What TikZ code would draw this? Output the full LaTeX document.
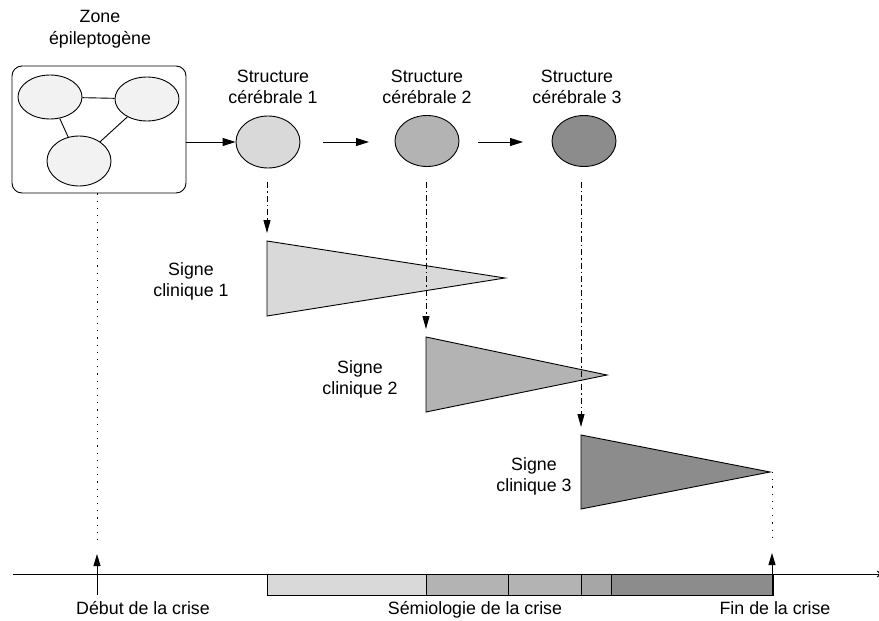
\documentclass[tikz,border=0pt]{standalone}
\usepackage{fontspec}
\setmainfont{Liberation Sans}
\usetikzlibrary{shapes.geometric,arrows.meta,calc}
\definecolor{gA}{HTML}{F2F2F2}
\definecolor{gL}{HTML}{D9D9D9}
\definecolor{gM}{HTML}{B3B3B3}
\definecolor{gN}{HTML}{A6A6A6}
\definecolor{gD}{HTML}{8C8C8C}
\begin{document}
\begin{tikzpicture}[x=1pt,y=-1pt,
  font=\fontsize{17.8}{21}\selectfont,
  line width=0.9pt,
  lbl/.style={align=center, anchor=base, inner sep=0pt},
  ell/.style={draw, ellipse, inner sep=0pt, minimum width=64pt, minimum height=52pt},
  arr/.style={-{Triangle[length=13pt,width=8pt]}},
  dd/.style={dash pattern=on 6pt off 3pt on 1.5pt off 3pt, -{Triangle[length=13pt,width=7pt]}},
  dots/.style={dash pattern=on 1.2pt off 6pt},
  seg/.style={draw}]
\useasboundingbox (0,0) rectangle (879,621);

% zone epileptogene
\node[draw, rounded corners=10pt, minimum width=174pt, minimum height=127pt, inner sep=0pt] (zone) at (99,129.5) {};
\node[ell, fill=gA, minimum height=44pt] (za) at (50,97) {};
\node[ell, fill=gA, minimum height=44pt] (zb) at (147,99) {};
\node[ell, fill=gA, minimum height=50pt] (zc) at (79,161) {};
\draw (za) -- (zb);
\draw (za) -- (zc);
\draw (zb) -- (zc);
\node[lbl] (zlab) at (100,44) {Zone\\épileptogène};

% structures
\node[ell, fill=gL] (e1) at (268,142) {};
\node[ell, fill=gM, minimum height=51pt] (e2) at (427,141) {};
\node[ell, fill=gD, minimum height=51pt] (e3) at (584,141) {};
\node[lbl] (s1) at (273,103) {Structure\\cérébrale 1};
\node[lbl] (s2) at (427,103) {Structure\\cérébrale 2};
\node[lbl] (s3) at (577,103) {Structure\\cérébrale 3};

\draw[arr] (zone.east |- e1.west) -- (e1.west);
\coordinate (a1s) at (323,142); \coordinate (a1e) at (369,142);
\coordinate (a2s) at (478,142); \coordinate (a2e) at (523,142);
\draw[arr] (a1s) -- (a1e);
\draw[arr] (a2s) -- (a2e);

% triangles
\coordinate (t1) at (267,241); \coordinate (t1b) at (267,316); \coordinate (t1p) at (505,278);
\coordinate (t2) at (426,337); \coordinate (t2b) at (426,412); \coordinate (t2p) at (607,375);
\coordinate (t3) at (581,435); \coordinate (t3b) at (581,509); \coordinate (t3p) at (770,472);
\draw[fill=gL] (t1) -- (t1p) -- (t1b) -- cycle;
\draw[fill=gM] (t2) -- (t2p) -- (t2b) -- cycle;
\draw[fill=gD] (t3) -- (t3p) -- (t3b) -- cycle;
\node[lbl] (c1) at (191,296) {Signe\\clinique 1};
\node[lbl] (c2) at (360,394) {Signe\\clinique 2};
\node[lbl] (c3) at (534,491) {Signe\\clinique 3};

% dash-dot connectors
\draw[dd] ($(t1 |- e1.south)+(0,14)$) -- ($(t1)+(0,-8)$);
\draw[dd] ($(t2 |- e2.south)+(0,15)$) -- ($(t2)+(0,-8)$);
\draw[dd] ($(t3 |- e3.south)+(0,15)$) -- ($(t3)+(0,-8)$);

% timeline
\coordinate (tl0) at (13,574);
\coordinate (tl1) at (881,574);
\draw[-{Straight Barb[length=3pt,width=6pt]}] (tl0) -- (tl1);
\draw[seg, fill=gL] (267,574) rectangle (426,595);
\draw[seg, fill=gM] (426,574) rectangle (508,595);
\draw[seg, fill=gM] (508,574) rectangle (581,595);
\draw[seg, fill=gN] (581,574) rectangle (611,595);
\draw[seg, fill=gD] (611,574) rectangle (773,595);

% start / end markers
\coordinate (deb) at (97,595);
\coordinate (fin) at (772,595);
\draw[dots] (zone.south -| deb) -- ($(deb)+(0,-55)$);
\draw[arr, -{Triangle[length=12pt,width=7pt]}] (deb) -- ($(deb)+(0,-41)$);
\draw[dots] (t3p -| fin) -- ($(fin)+(0,-55)$);
\draw[arr, -{Triangle[length=12pt,width=7pt]}] (fin) -- ($(fin)+(0,-42)$);

\node[lbl] (ldeb) at (143,614) {Début de la crise};
\node[lbl] (lsem) at (475,614) {Sémiologie de la crise};
\node[lbl] (lfin) at (775,614) {Fin de la crise};
\end{tikzpicture}
\end{document}
